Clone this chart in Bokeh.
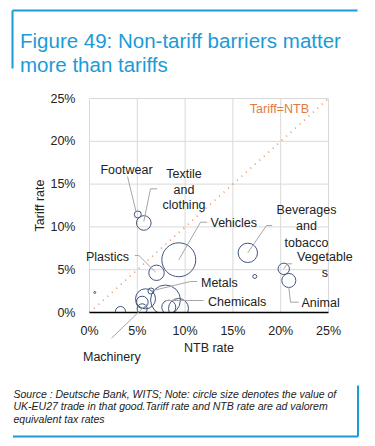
from bokeh.plotting import figure
from bokeh.models import Label, Arrow, FixedTicker, Range1d, LinearAxis, BoxAnnotation
from bokeh.embed import file_html
from bokeh.resources import INLINE
import numpy as np

# ---------------- data ----------------
products = ["Footwear", "Textile and clothing", "Vehicles", "Beverages and tobacco",
            "Other A", "Vegetables", "Animal", "Plastics", "Other B", "Other C",
            "Chemicals", "Metals", "Machinery", "Other D", "Other E", "Other F", "Other G"]
ntb_rate = [5.05, 5.68, 9.34, 16.56, 17.29, 20.32, 20.85, 7.01, 0.55, 3.24,
            7.95, 6.43, 5.86, 5.51, 5.51, 8.29, 9.31]
tariff_rate = [11.45, 10.46, 6.16, 6.97, 4.21, 5.10, 3.74, 4.64, 2.34, 0.12,
               1.46, 2.51, 1.60, 1.20, 0.43, 0.62, 0.47]
trade_value = [3.1, 13.3, 72.0, 23.5, 1.0, 8.1, 12.3, 14.8, 0.25, 6.3,
               56.0, 2.3, 25.0, 9.0, 6.3, 12.3, 25.0]
axis_min, axis_max = 0, 25
parity = [axis_min, axis_max]
x_ticks = [0, 5, 10, 15, 20, 25]
y_ticks = [0, 5, 10, 15, 20, 25]
tick_labels = ["0%", "5%", "10%", "15%", "20%", "25%"]

# ---------------- layout ----------------
W, H = 375, 446
L, R, T, B = 89, 47, 98, 134          # plot area inside the canvas
FW, FH = W - L - R, H - T - B
FONT = "Liberation Sans"
BLUE = "#1a9bd7"
NAVY = "#41557f"
GREY = "#a6a6a6"
ORANGE = "#e07b3c"
GRID = "#d9d9d9"


def dx(px):
    return (px - L) / FW * (axis_max - axis_min) + axis_min


def dy(py):
    return (H - B - py) / FH * (axis_max - axis_min) + axis_min


p = figure(width=W, height=H, x_range=Range1d(dx(0), dx(W)), y_range=Range1d(dy(H), dy(0)),
           output_backend="svg", toolbar_location=None, x_axis_type=None, y_axis_type=None,
           min_border=0)
p.outline_line_color = None
p.background_fill_color = "white"
p.border_fill_color = "white"

# grid lines from the tick arrays
p.segment(x0=x_ticks, y0=[axis_min] * len(x_ticks), x1=x_ticks, y1=[axis_max] * len(x_ticks),
          line_color=GRID, line_width=1)
p.segment(x0=[axis_min] * len(y_ticks), y0=y_ticks, x1=[axis_max] * len(y_ticks), y1=y_ticks,
          line_color=GRID, line_width=1)

# parity line
p.line(parity, parity, line_color=ORANGE, line_width=1.5, line_dash="1 5", line_alpha=0.9)

# bubbles
sizes = [4 * np.sqrt(v) for v in trade_value]
p.scatter(ntb_rate, tariff_rate, size=sizes, marker="circle",
          fill_color=None, line_color=NAVY, line_width=1)

# hide the parts of bubbles below the x axis
p.add_layout(BoxAnnotation(top=axis_min, fill_color="white", fill_alpha=1,
                           line_color=None, level="glyph"))

xa = LinearAxis(fixed_location=axis_min, bounds=(axis_min, axis_max),
                ticker=FixedTicker(ticks=x_ticks))
ya = LinearAxis(fixed_location=axis_min, bounds=(axis_min, axis_max),
                ticker=FixedTicker(ticks=y_ticks))
xa.major_label_overrides = dict(zip(x_ticks, tick_labels))
ya.major_label_overrides = dict(zip(y_ticks, tick_labels))
for ax in (xa, ya):
    ax.major_tick_line_color = None
    ax.minor_tick_line_color = None
    ax.major_label_text_font = FONT
    ax.major_label_text_font_size = "12.5px"
    ax.major_label_text_color = "#222222"
    ax.axis_label_text_font = FONT
    ax.axis_label_text_font_size = "12.5px"
    ax.axis_label_text_font_style = "normal"
    ax.axis_label_text_color = "#222222"
xa.axis_line_color = "black"
xa.axis_line_width = 1.5
ya.axis_line_color = None
xa.major_label_standoff = 5
ya.major_label_standoff = 8
xa.axis_label = "NTB rate"
ya.axis_label = "Tariff rate"
xa.axis_label_standoff = 0
ya.axis_label_standoff = 0
p.add_layout(xa, "below")
p.add_layout(ya, "left")


def lab(text, px, py, align="center", color="#222222", size="12.5px",
        style="normal", baseline="middle"):
    p.add_layout(Label(x=dx(px), y=dy(py), text=text, text_align=align,
                       text_baseline=baseline, text_color=color,
                       text_font=FONT, text_font_size=size, text_font_style=style))


def seg(pts, color=GREY, width=1):
    for (x0, y0), (x1, y1) in zip(pts[:-1], pts[1:]):
        p.add_layout(Arrow(end=None, x_start=dx(x0), y_start=dy(y0),
                           x_end=dx(x1), y_end=dy(y1),
                           line_color=color, line_width=width))


# title
lab("Figure 49: Non-tariff barriers matter", 19.5, 40, align="left", color=BLUE,
    size="20.5px", baseline="alphabetic")
lab("more than tariffs", 19.5, 63.5, align="left", color=BLUE,
    size="20.5px", baseline="alphabetic")
seg([(12, 68), (12, 10), (357, 10)], color=BLUE, width=2)

# footer
lab("Source : Deutsche Bank, WITS; Note: circle size denotes the value of", 13, 393.3,
    align="left", size="10.5px", style="italic")
lab("UK-EU27 trade in that good.Tariff rate and NTB rate are ad valorem", 13, 405.7,
    align="left", size="10.5px", style="italic")
lab("equivalent tax rates", 13, 418.3, align="left", size="10.5px", style="italic")
seg([(357.5, 385), (357.5, 436), (12.5, 436)], color=BLUE, width=2)

# parity label
lab("Tariff=NTB", 308.5, 108.5, align="right", color=ORANGE)

# bubble labels and leader lines
lab("Footwear", 126, 169.3)
seg([(127, 176), (135.5, 211)])
lab("Textile", 183.5, 173.7)
lab("and", 183.5, 189.7)
lab("clothing", 183.5, 204.7)
seg([(156.7, 188.3), (150, 188.3), (143.3, 221)])
lab("Vehicles", 210, 222.5, align="left")
seg([(206.7, 221.7), (200, 221.7), (178.3, 259.3)])
lab("Beverages", 306, 209.3)
lab("and", 306, 225.7)
lab("tobacco", 306, 242)
seg([(271.7, 225), (266, 225), (247.3, 252.3)])
lab("Vegetable", 324.3, 256.7)
lab("s", 324.3, 272.3)
seg([(291.7, 263.3), (286.7, 263.3), (283.3, 268.3)])
lab("Animal", 301, 302.3, align="left")
seg([(298.3, 301.7), (290, 301.7), (288.3, 286.7)])
lab("Plastics", 107, 256)
seg([(134.3, 255), (138.3, 255), (155, 271.5)])
lab("Metals", 200.5, 282.7, align="left")
seg([(196.7, 281), (190, 281), (150.5, 290.5)])
lab("Chemicals", 207.5, 301, align="left")
seg([(203, 300), (165, 300)])
lab("Machinery", 111.3, 356.7)
seg([(111, 337.7), (146.7, 303.3)])

open("out.html", "w").write(file_html(p, INLINE))
